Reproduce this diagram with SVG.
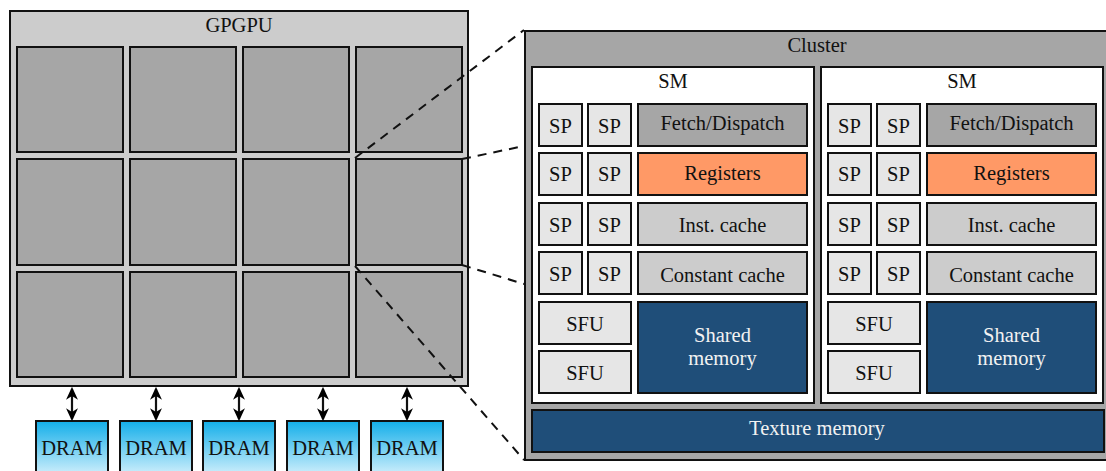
<svg xmlns="http://www.w3.org/2000/svg" width="1106" height="471" viewBox="0 0 1106 471">
<defs>
<linearGradient id="dramg" x1="0" y1="0" x2="0" y2="1">
<stop offset="0" stop-color="#12aee9"/>
<stop offset="1" stop-color="#f2fbff"/>
</linearGradient>
<marker id="ah" viewBox="0 0 12 12" refX="10" refY="6" markerWidth="13" markerHeight="13" markerUnits="userSpaceOnUse" orient="auto-start-reverse">
<path d="M0,0.5 L12,6 L0,11.5 L3.5,6 Z" fill="#000"/>
</marker>
<style>
text{font-family:"Liberation Serif","Times New Roman",serif;font-size:20.5px;fill:#111;text-anchor:middle}
.w{fill:#f2f2f2}
rect{stroke:#111;stroke-width:2}
.gp{fill:#cccccc}
.tile{fill:#a6a6a6}
.cl{fill:#a6a6a6}
.sm{fill:#ffffff}
.sp{fill:#e6e6e6}
.fd{fill:#a6a6a6}
.reg{fill:#ff9966}
.ca{fill:#cccccc}
.mem{fill:#1f4e79}
.dram{fill:url(#dramg)}
.dash{stroke:#111;stroke-width:2;stroke-dasharray:9 7;fill:none}
.arr{stroke:#111;stroke-width:2.2;fill:none}
</style>
</defs>

<g id="gpgpu">
<rect class="gp" x="10" y="11" width="458" height="375"/>
<text x="239" y="32">GPGPU</text>
</g>
<g id="tiles">
<rect class="tile" x="17" y="47" width="106" height="105"/>
<rect class="tile" x="130" y="47" width="106" height="105"/>
<rect class="tile" x="243" y="47" width="106" height="105"/>
<rect class="tile" x="356" y="47" width="106" height="105"/>
<rect class="tile" x="17" y="159" width="106" height="106"/>
<rect class="tile" x="130" y="159" width="106" height="106"/>
<rect class="tile" x="243" y="159" width="106" height="106"/>
<rect class="tile" x="356" y="159" width="106" height="106"/>
<rect class="tile" x="17" y="272" width="106" height="105"/>
<rect class="tile" x="130" y="272" width="106" height="105"/>
<rect class="tile" x="243" y="272" width="106" height="105"/>
<rect class="tile" x="356" y="272" width="106" height="105"/>
</g>

<g id="dram1"><rect class="dram" x="36" y="421" width="72" height="64"/><text x="72" y="455">DRAM</text></g>
<g id="dram2"><rect class="dram" x="120" y="421" width="72" height="64"/><text x="156" y="455">DRAM</text></g>
<g id="dram3"><rect class="dram" x="203" y="421" width="72" height="64"/><text x="239" y="455">DRAM</text></g>
<g id="dram4"><rect class="dram" x="287" y="421" width="72" height="64"/><text x="323" y="455">DRAM</text></g>
<g id="dram5"><rect class="dram" x="371" y="421" width="72" height="64"/><text x="407" y="455">DRAM</text></g>

<g id="cluster">
<rect class="cl" x="525" y="31" width="590" height="429"/>
<text x="817" y="52">Cluster</text>
</g>

<g id="sm1">
<rect class="sm" x="532" y="67" width="282" height="336"/>
<text x="673" y="88">SM</text>
<rect class="sp" x="539" y="104" width="43" height="42"/><text x="560.5" y="133">SP</text>
<rect class="sp" x="588" y="104" width="43" height="42"/><text x="609.5" y="133">SP</text>
<rect class="fd" x="638" y="104" width="169" height="42"/><text x="722.5" y="129.5">Fetch/Dispatch</text>
<rect class="sp" x="539" y="153" width="43" height="42"/><text x="560.5" y="181">SP</text>
<rect class="sp" x="588" y="153" width="43" height="42"/><text x="609.5" y="181">SP</text>
<rect class="reg" x="638" y="153" width="169" height="42"/><text x="722.5" y="179.5">Registers</text>
<rect class="sp" x="539" y="203" width="43" height="42"/><text x="560.5" y="231.5">SP</text>
<rect class="sp" x="588" y="203" width="43" height="42"/><text x="609.5" y="231.5">SP</text>
<rect class="ca" x="638" y="203" width="169" height="42"/><text x="722.5" y="231.5">Inst. cache</text>
<rect class="sp" x="539" y="252" width="43" height="42"/><text x="560.5" y="281">SP</text>
<rect class="sp" x="588" y="252" width="43" height="42"/><text x="609.5" y="281">SP</text>
<rect class="ca" x="638" y="252" width="169" height="42"/><text x="722.5" y="281.5">Constant cache</text>
<rect class="sp" x="539" y="302" width="92" height="42"/><text x="585" y="330.5">SFU</text>
<rect class="sp" x="539" y="351" width="92" height="42"/><text x="585" y="379.5">SFU</text>
<rect class="mem" x="638" y="302" width="169" height="91"/>
<text class="w" x="722.5" y="342">Shared</text>
<text class="w" x="722.5" y="365">memory</text>
</g>

<g id="sm2">
<rect class="sm" x="821" y="67" width="282" height="336"/>
<text x="962" y="88">SM</text>
<rect class="sp" x="828" y="104" width="43" height="42"/><text x="849.5" y="133">SP</text>
<rect class="sp" x="877" y="104" width="43" height="42"/><text x="898.5" y="133">SP</text>
<rect class="fd" x="927" y="104" width="169" height="42"/><text x="1011.5" y="129.5">Fetch/Dispatch</text>
<rect class="sp" x="828" y="153" width="43" height="42"/><text x="849.5" y="181">SP</text>
<rect class="sp" x="877" y="153" width="43" height="42"/><text x="898.5" y="181">SP</text>
<rect class="reg" x="927" y="153" width="169" height="42"/><text x="1011.5" y="179.5">Registers</text>
<rect class="sp" x="828" y="203" width="43" height="42"/><text x="849.5" y="231.5">SP</text>
<rect class="sp" x="877" y="203" width="43" height="42"/><text x="898.5" y="231.5">SP</text>
<rect class="ca" x="927" y="203" width="169" height="42"/><text x="1011.5" y="231.5">Inst. cache</text>
<rect class="sp" x="828" y="252" width="43" height="42"/><text x="849.5" y="281">SP</text>
<rect class="sp" x="877" y="252" width="43" height="42"/><text x="898.5" y="281">SP</text>
<rect class="ca" x="927" y="252" width="169" height="42"/><text x="1011.5" y="281.5">Constant cache</text>
<rect class="sp" x="828" y="302" width="92" height="42"/><text x="874" y="330.5">SFU</text>
<rect class="sp" x="828" y="351" width="92" height="42"/><text x="874" y="379.5">SFU</text>
<rect class="mem" x="927" y="302" width="169" height="91"/>
<text class="w" x="1011.5" y="342">Shared</text>
<text class="w" x="1011.5" y="365">memory</text>
</g>

<g id="texture">
<rect class="mem" x="532" y="410" width="572" height="42"/>
<text class="w" x="817" y="435">Texture memory</text>
</g>

<g id="connectors">
<line class="arr" x1="72" y1="389" x2="72" y2="419" marker-start="url(#ah)" marker-end="url(#ah)"/>
<line class="arr" x1="156" y1="389" x2="156" y2="419" marker-start="url(#ah)" marker-end="url(#ah)"/>
<line class="arr" x1="239" y1="389" x2="239" y2="419" marker-start="url(#ah)" marker-end="url(#ah)"/>
<line class="arr" x1="323" y1="389" x2="323" y2="419" marker-start="url(#ah)" marker-end="url(#ah)"/>
<line class="arr" x1="407" y1="389" x2="407" y2="419" marker-start="url(#ah)" marker-end="url(#ah)"/>
<line class="dash" x1="355" y1="158" x2="524" y2="30"/>
<line class="dash" x1="462" y1="159" x2="524" y2="146"/>
<line class="dash" x1="462" y1="265" x2="524" y2="284"/>
<line class="dash" x1="355" y1="266" x2="524" y2="460"/>
</g>
</svg>
